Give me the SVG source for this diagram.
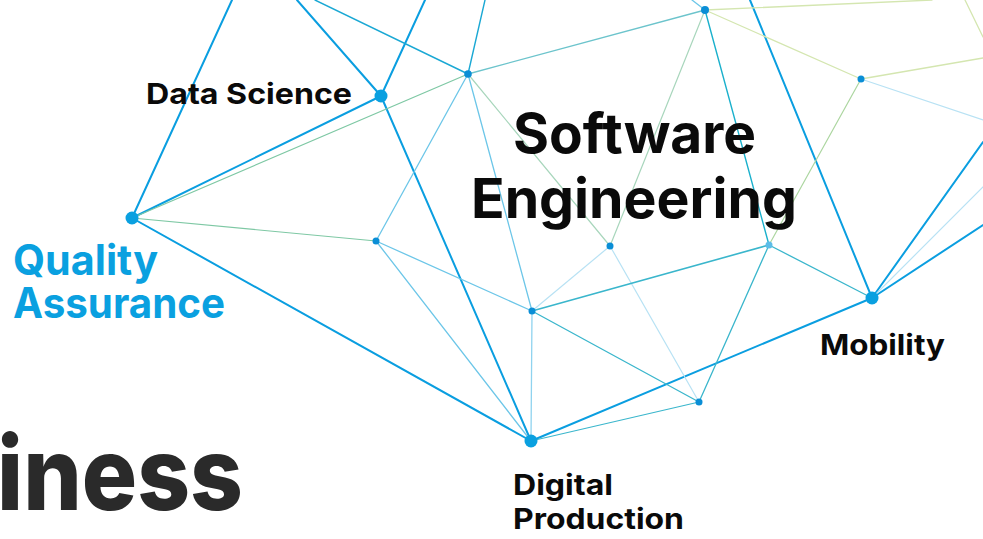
<svg xmlns="http://www.w3.org/2000/svg" width="983" height="539" viewBox="0 0 983 539">
<style>
text{font-family:Inter,Lato,"Liberation Sans",sans-serif;font-weight:700}
.lbl{fill:#0a0a0a;font-size:29px}
.big{fill:#0a0a0a;font-size:55px}
.qa{fill:#0aa0e0;font-size:42px}
.biz{fill:#2a2a2a;font-size:102px;font-weight:800}
line{fill:none;stroke-linecap:round}
.tb{stroke:#0a9ee0;stroke-width:2}
.cy{stroke:#1aa8d4;stroke-width:1.4}
.te{stroke:#3ab6cc;stroke-width:1.3}
.lb{stroke:#6cc6e8;stroke-width:1.3}
.vl{stroke:#b8e2f4;stroke-width:1.2}
.gr{stroke:#7ec8a4;stroke-width:1.2}
.pg{stroke:#a8d6bc;stroke-width:1.2}
.yg{stroke:#d4e6b0;stroke-width:1.3}
.big-n{fill:#0aa0e0}
.sm-n{fill:#0a8ed6}
</style>
<rect width="983" height="539" fill="#ffffff"/>
<g id="connectors">
<line class="tb" x1="232" y1="0" x2="132" y2="218"/>
<line class="tb" x1="297" y1="0" x2="381" y2="96"/>
<line class="tb" x1="425" y1="0" x2="381" y2="96"/>
<line class="tb" x1="132" y1="218" x2="381" y2="96"/>
<line class="tb" x1="132" y1="218" x2="531" y2="441"/>
<line class="tb" x1="381" y1="96" x2="531" y2="441"/>
<line class="tb" x1="531" y1="441" x2="872" y2="298"/>
<line class="tb" x1="750" y1="0" x2="872" y2="298"/>
<line class="tb" x1="872" y1="298" x2="983" y2="142"/>
<line class="tb" x1="872" y1="298" x2="983" y2="225"/>
<line class="vl" x1="872" y1="298" x2="983" y2="187"/>
<line class="cy" x1="315" y1="0" x2="468" y2="74"/>
<line class="cy" x1="485" y1="0" x2="468" y2="74"/>
<line class="gr" x1="132" y1="218" x2="468" y2="74"/>
<line class="gr" x1="132" y1="218" x2="376" y2="241"/>
<line class="lb" x1="468" y1="74" x2="376" y2="241"/>
<line class="lb" x1="468" y1="74" x2="532" y2="311"/>
<line class="pg" x1="468" y1="74" x2="610" y2="246"/>
<line class="te" x1="468" y1="74" x2="705" y2="10" style="stroke:#6cc4cc"/>
<line class="lb" x1="376" y1="241" x2="532" y2="311"/>
<line class="lb" x1="376" y1="241" x2="531" y2="441"/>
<line class="lb" x1="532" y1="311" x2="531" y2="441" style="stroke:#8fd3ef"/>
<line class="vl" x1="532" y1="311" x2="610" y2="246"/>
<line class="vl" x1="610" y1="246" x2="699" y2="402"/>
<line class="te" x1="532" y1="311" x2="769" y2="245" style="stroke-width:1.6"/>
<line class="te" x1="532" y1="311" x2="699" y2="402"/>
<line class="te" x1="531" y1="441" x2="699" y2="402" style="stroke-width:1.1"/>
<line class="te" x1="769" y1="245" x2="699" y2="402"/>
<line class="te" x1="769" y1="245" x2="872" y2="298"/>
<line class="lb" x1="692" y1="0" x2="705" y2="10"/>
<line class="yg" x1="705" y1="10" x2="932" y2="0"/>
<line class="yg" x1="705" y1="10" x2="861" y2="79"/>
<line class="cy" x1="705" y1="10" x2="769" y2="245" style="stroke:#1ab0cc"/>
<line class="pg" x1="705" y1="10" x2="610" y2="246"/>
<line class="yg" x1="861" y1="79" x2="983" y2="58"/>
<line class="vl" x1="861" y1="79" x2="983" y2="120"/>
<line class="pg" x1="861" y1="79" x2="769" y2="245" style="stroke:#acd6a0"/>
<line class="yg" x1="965" y1="0" x2="983" y2="37"/>
</g>
<g id="node-data-science">
<circle class="big-n" cx="381" cy="96" r="6.5"/>
<text class="lbl" x="146" y="104" textLength="206" lengthAdjust="spacingAndGlyphs">Data Science</text>
</g>
<g id="node-quality-assurance">
<circle class="big-n" cx="132" cy="218" r="6.5"/>
<text class="qa" x="13" y="275" textLength="145" lengthAdjust="spacingAndGlyphs">Quality</text>
<text class="qa" x="13" y="318" textLength="212" lengthAdjust="spacingAndGlyphs">Assurance</text>
</g>
<g id="label-software-engineering">
<text class="big" x="513" y="153" textLength="243" lengthAdjust="spacingAndGlyphs">Software</text>
<text class="big" x="471" y="218" textLength="326" lengthAdjust="spacingAndGlyphs">Engineering</text>
</g>
<g id="node-mobility">
<circle class="big-n" cx="872" cy="298" r="6.5"/>
<text class="lbl" x="820" y="355" textLength="125" lengthAdjust="spacingAndGlyphs">Mobility</text>
</g>
<g id="node-digital-production">
<circle class="big-n" cx="531" cy="441" r="6.5"/>
<text class="lbl" x="513" y="495" textLength="100" lengthAdjust="spacingAndGlyphs">Digital</text>
<text class="lbl" x="513" y="529" textLength="171" lengthAdjust="spacingAndGlyphs">Production</text>
</g>
<g id="node-n1"><circle class="sm-n" cx="468" cy="74" r="3.8"/></g>
<g id="node-n2"><circle class="sm-n" cx="705" cy="10" r="4"/></g>
<g id="node-n3"><circle class="sm-n" cx="861" cy="79" r="3.5"/></g>
<g id="node-n4"><circle class="sm-n" cx="376" cy="241" r="3.5"/></g>
<g id="node-n5"><circle class="sm-n" cx="610" cy="246" r="3.5"/></g>
<g id="node-n6"><circle cx="769" cy="245" r="3.5" fill="#5cbde8"/></g>
<g id="node-n7"><circle class="sm-n" cx="532" cy="311" r="3.5"/></g>
<g id="node-n8"><circle class="sm-n" cx="699" cy="402" r="3.5"/></g>
<text class="biz" x="-3" y="510" textLength="246" lengthAdjust="spacingAndGlyphs">iness</text>
</svg>
